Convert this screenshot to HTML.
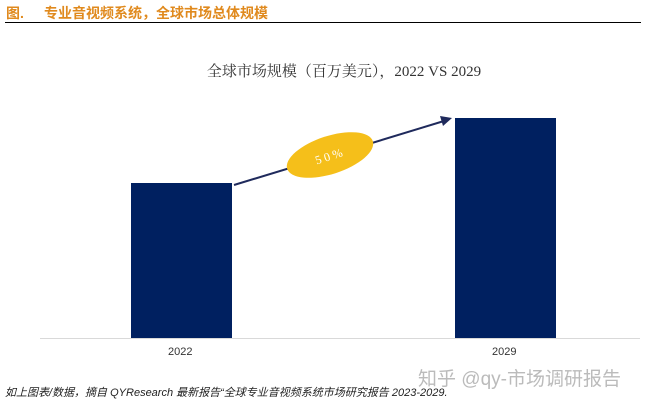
<!DOCTYPE html>
<html><head><meta charset="utf-8"><style>
body{margin:0;width:646px;height:406px;background:#fff;position:relative;overflow:hidden;font-family:"Liberation Sans","Noto Sans CJK SC",sans-serif}
.a{position:absolute;white-space:nowrap}
</style></head><body>
<div class="a" style="left:6px;top:3px;font-size:14px;font-weight:bold;color:#e08a1e">图.</div>
<div class="a" style="left:44px;top:3px;font-size:14px;font-weight:bold;color:#e08a1e">专业音视频系统，全球市场总体规模</div>
<div class="a" style="left:5px;top:22px;width:636px;height:1px;background:#000"></div>
<div class="a" style="left:0;width:688px;top:60px;text-align:center;font-size:15px;color:#333;font-family:'Liberation Serif','Noto Serif CJK SC',serif">全球市场规模（百万美元），2022 VS 2029</div>
<svg class="a" style="left:0;top:0" width="646" height="406">
<line x1="40" y1="338.5" x2="640" y2="338.5" stroke="#d9d9d9"/>
<rect x="131" y="183" width="101" height="155" fill="#002060"/>
<rect x="455" y="118" width="101" height="220" fill="#002060"/>
<line x1="234" y1="185" x2="444" y2="121" stroke="#1f2a5c" stroke-width="2"/>
<polygon points="452,118 440,116 443,126" fill="#1f2a5c"/>
<ellipse cx="330" cy="155" rx="45" ry="19" fill="#f5bf1a" transform="rotate(-18 330 155)"/>
<text x="330" y="160" font-size="12" fill="#fff" text-anchor="middle" letter-spacing="3" font-family="Liberation Serif,serif" transform="rotate(-18 330 155)">50%</text>
</svg>
<div class="a" style="left:168px;top:346px;font-size:11px;color:#333">2022</div>
<div class="a" style="left:492px;top:346px;font-size:11px;color:#333">2029</div>
<div class="a" style="left:418px;top:364px;font-size:19px;color:#bbb">知乎 @qy-市场调研报告</div>
<div class="a" style="left:5px;top:384px;font-size:11px;font-style:italic;color:#222">如上图表/数据，摘自 QYResearch 最新报告“全球专业音视频系统市场研究报告 2023-2029.</div>
</body></html>
